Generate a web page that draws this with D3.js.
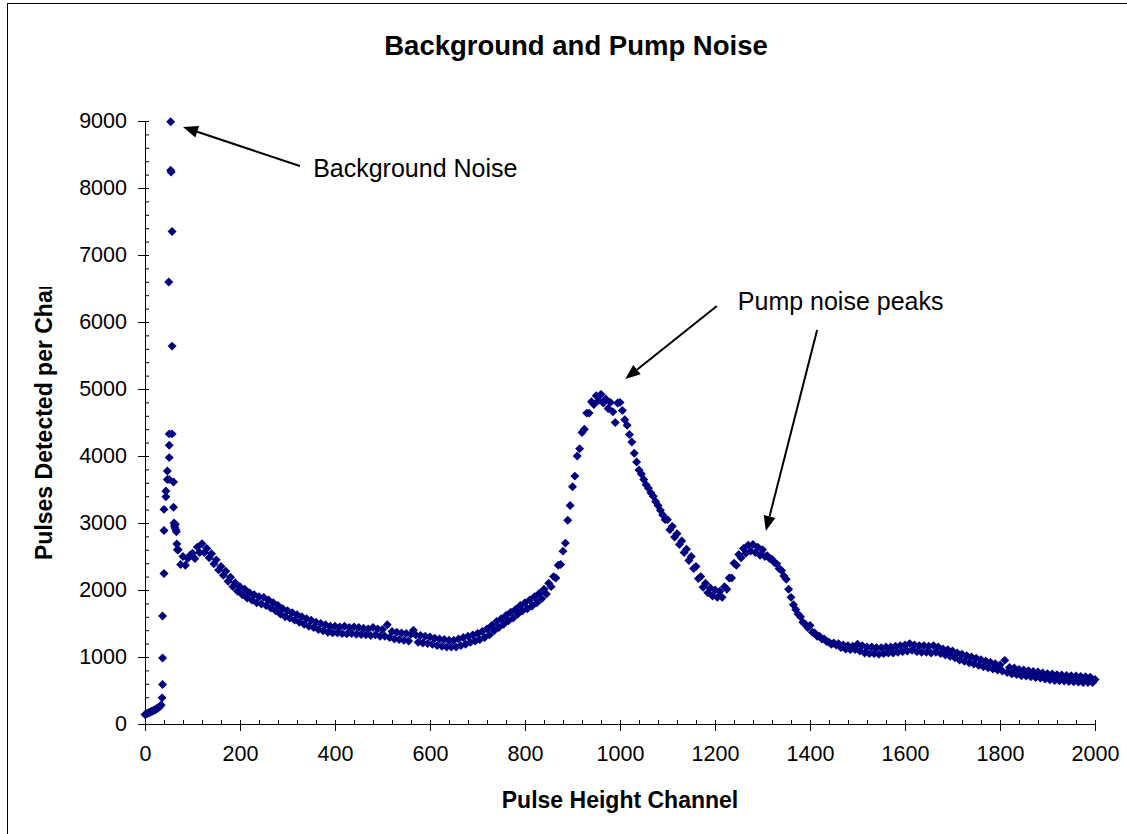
<!DOCTYPE html>
<html>
<head>
<meta charset="utf-8">
<script src="https://cdn.jsdelivr.net/npm/d3@7"></script>
<style>
  body { margin: 0; background: #fff; }
  text { font-family: "Liberation Sans", Arial, sans-serif; }
</style>
</head>
<body>
<script>
// Low channels: ramp up to the background spike
var rampChannels = [0, 2, 4, 6, 8, 10, 12, 14, 16, 18, 20, 22, 24, 26, 28, 30, 32, 34];
var rampCounts = [140, 150, 155, 160, 170, 175, 180, 190, 195, 200, 210, 215, 225, 235, 245, 255, 270, 285];

// Background noise spike (scattered points)
var spikeChannels = [36, 37, 37, 37, 40, 40, 40, 44, 44, 47, 47, 51, 51, 51, 51, 57, 57, 50, 57, 54, 55, 54, 60, 60, 61, 62, 63, 64, 65, 66, 67, 68];
var spikeCounts = [390, 590, 985, 1612, 2246, 2887, 3203, 3478, 3392, 3776, 3648, 3648, 3976, 4160, 4330, 4330, 5640, 6597, 7352, 8265, 8240, 8990, 3612, 3234, 3000, 2960, 2930, 2980, 2900, 2870, 2686, 2600];

// Main spectrum, every 5th channel from 70 to 2000
var curveStart = 70, curveStep = 5;
var curveCounts = [
  2600, 2380, 2500, 2370, 2470, 2520,
  2550, 2470, 2640, 2560, 2690, 2560, 2620, 2480, 2540, 2390, 2450, 2300, 2350, 2220, 2280, 2130, 2190, 2050, 2110, 1980,
  2050, 1930, 2010, 1880, 1960, 1850, 1930, 1810, 1900, 1790, 1890, 1770, 1850, 1730, 1810, 1690, 1770, 1640, 1720, 1600,
  1690, 1580, 1660, 1550, 1630, 1520, 1600, 1490, 1570, 1460, 1550, 1440, 1520, 1410, 1500, 1390, 1480, 1370, 1460, 1360,
  1460, 1360, 1450, 1350, 1460, 1345, 1440, 1350, 1450, 1340, 1440, 1335, 1430, 1330, 1420, 1320, 1440, 1330, 1420, 1310,
  1410, 1310, 1480, 1290, 1380, 1270, 1370, 1260, 1360, 1250, 1350, 1240, 1340, 1400, 1330, 1220, 1320, 1210, 1310, 1200,
  1300, 1190, 1280, 1170, 1270, 1160, 1260, 1150, 1250, 1150, 1250, 1150, 1270, 1170, 1290, 1190, 1310, 1220, 1330, 1240,
  1350, 1260, 1380, 1290, 1420, 1330, 1470, 1390, 1530, 1440, 1570, 1490, 1620, 1540, 1670, 1580, 1710, 1640, 1770, 1690,
  1810, 1720, 1850, 1760, 1900, 1810, 1950, 1870, 2010, 1940, 2100, 2050, 2200, 2180, 2370, 2380, 2580, 2700, 3040, 3260,
  3540, 3700, 4000, 4110, 4350, 4400, 4640, 4640, 4810, 4770, 4900, 4830, 4920, 4790, 4850, 4710, 4800, 4660, 4500, 4790,
  4800, 4680, 4540, 4460, 4320, 4210, 4040, 3910, 3790, 3730, 3650, 3570, 3520, 3450, 3400, 3320, 3260, 3190, 3120, 3050,
  3050, 2900, 2950, 2790, 2840, 2680, 2730, 2560, 2610, 2440, 2500, 2320, 2350, 2170, 2200, 2040, 2100, 1960, 2030, 1910,
  2000, 1890, 1980, 1890, 2050, 2010, 2180, 2180, 2400, 2370, 2530, 2480, 2620, 2550, 2670, 2580, 2680, 2560, 2640, 2520,
  2600, 2500, 2510, 2470, 2460, 2410, 2390, 2320, 2290, 2210, 2160, 2010, 1890, 1780, 1710, 1640, 1600, 1520, 1490, 1440,
  1470, 1370, 1360, 1310, 1310, 1270, 1270, 1230, 1220, 1190, 1210, 1180, 1200, 1140, 1180, 1120, 1170, 1110, 1160, 1110,
  1190, 1090, 1170, 1060, 1150, 1050, 1150, 1050, 1140, 1040, 1140, 1050, 1150, 1060, 1150, 1060, 1160, 1070, 1170, 1080,
  1180, 1090, 1200, 1100, 1180, 1080, 1170, 1070, 1170, 1070, 1160, 1060, 1170, 1070, 1150, 1050, 1120, 1030, 1110, 1010,
  1090, 990, 1060, 955, 1040, 935, 1020, 915, 1000, 895, 980, 875, 960, 855, 940, 840, 920, 820, 900, 805,
  880, 790, 950, 770, 845, 750, 835, 740, 815, 720, 805, 715, 795, 705, 785, 695, 775, 685, 760, 670,
  750, 660, 745, 650, 735, 645, 730, 640, 725, 635, 720, 630, 715, 625, 710, 620, 705, 620, 700, 618,
  665
];

// Axis ticks
var xMajorTicks = d3.range(0, 2001, 200);
var xMinorTicks = d3.range(0, 2001, 40);
var yMajorTicks = d3.range(0, 9001, 1000);
var yMinorTicks = d3.range(0, 9001, 200);

// Annotations in data units (channel, count)
var notes = [
  { text: "Background Noise", x: 354, y: 8164 },
  { text: "Pump noise peaks", x: 1248, y: 6179 }
];
var arrows = [
  { from: [326, 8328], to: [80, 8910] },
  { from: [1204, 6239], to: [1011, 5149] },
  { from: [1415, 5881], to: [1307, 2881] }
];

var width = 1127, height = 834;
var markerColor = "#000080";

var svg = d3.select("body")
  .append("svg")
  .attr("width", width)
  .attr("height", height);

// Chart frame (runs off the right and bottom edge)
svg.append("rect")
  .attr("x", 7.5)
  .attr("y", 3.5)
  .attr("width", 1140)
  .attr("height", 860)
  .attr("fill", "none")
  .attr("stroke", "#000")
  .attr("stroke-width", 1);

var x = d3.scaleLinear().domain([0, 2000]).range([145, 1095]);
var y = d3.scaleLinear().domain([0, 9000]).range([724, 121]);

// Build points from the arrays
var points = [];
rampChannels.forEach(function (c, i) { points.push({ ch: c, v: rampCounts[i] }); });
spikeChannels.forEach(function (c, i) { points.push({ ch: c, v: spikeCounts[i] }); });
curveCounts.forEach(function (v, i) { points.push({ ch: curveStart + i * curveStep, v: v }); });

// Minor ticks (inside)
svg.append("g")
  .attr("transform", "translate(0," + y(0) + ")")
  .call(d3.axisBottom(x).tickValues(xMinorTicks).tickSize(-4).tickFormat(""))
  .call(function (g) { g.select(".domain").remove(); });

svg.append("g")
  .attr("transform", "translate(" + x(0) + ",0)")
  .call(d3.axisLeft(y).tickValues(yMinorTicks).tickSize(-4).tickFormat(""))
  .call(function (g) { g.select(".domain").remove(); });

// Major ticks with labels (outside)
var xAxis = svg.append("g")
  .attr("transform", "translate(0," + y(0) + ")")
  .call(d3.axisBottom(x).tickValues(xMajorTicks).tickSizeInner(7).tickSizeOuter(0).tickPadding(15).tickFormat(d3.format("d")));

var yAxis = svg.append("g")
  .attr("transform", "translate(" + x(0) + ",0)")
  .call(d3.axisLeft(y).tickValues(yMajorTicks).tickSizeInner(7).tickSizeOuter(0).tickPadding(11).tickFormat(d3.format("d")));

[xAxis, yAxis].forEach(function (g) {
  g.attr("font-family", null).attr("font-size", null);
  g.selectAll("text").style("font-size", "21.5px").attr("fill", "#000");
  g.selectAll("line, path").attr("stroke", "#000");
});

// Data markers: small diamonds
var diamond = d3.symbol().type(d3.symbolSquare).size(40);
svg.append("g")
  .selectAll("path")
  .data(points)
  .enter()
  .append("path")
  .attr("d", diamond)
  .attr("transform", function (d) { return "translate(" + x(d.ch) + "," + y(d.v) + ") rotate(45)"; })
  .attr("fill", markerColor);

// Title
svg.append("text")
  .attr("x", 576)
  .attr("y", 55)
  .attr("text-anchor", "middle")
  .style("font-size", "27.5px")
  .style("font-weight", "bold")
  .text("Background and Pump Noise");

// X axis title
svg.append("text")
  .attr("x", 620)
  .attr("y", 808)
  .attr("text-anchor", "middle")
  .style("font-size", "23px")
  .style("font-weight", "bold")
  .text("Pulse Height Channel");

// Y axis title, clipped like in the original
svg.append("clipPath")
  .attr("id", "ytitle-clip")
  .append("rect")
  .attr("x", 0).attr("y", 287).attr("width", 100).attr("height", 500);

svg.append("g")
  .attr("clip-path", "url(#ytitle-clip)")
  .append("text")
  .attr("transform", "translate(52,560) rotate(-90)")
  .style("font-size", "23px")
  .style("font-weight", "bold")
  .text("Pulses Detected per Channel");

// Annotation text
svg.selectAll(".note")
  .data(notes)
  .enter()
  .append("text")
  .attr("class", "note")
  .attr("x", function (d) { return x(d.x); })
  .attr("y", function (d) { return y(d.y); })
  .style("font-size", "25px")
  .text(function (d) { return d.text; });

// Arrows
var headLen = 15, headHalf = 6;
arrows.forEach(function (a) {
  var x1 = x(a.from[0]), y1 = y(a.from[1]);
  var x2 = x(a.to[0]), y2 = y(a.to[1]);
  var ang = Math.atan2(y2 - y1, x2 - x1);
  var bx = x2 - headLen * Math.cos(ang), by = y2 - headLen * Math.sin(ang);
  svg.append("line")
    .attr("x1", x1).attr("y1", y1)
    .attr("x2", bx).attr("y2", by)
    .attr("stroke", "#000")
    .attr("stroke-width", 2);
  var px = -Math.sin(ang) * headHalf, py = Math.cos(ang) * headHalf;
  svg.append("path")
    .attr("d", "M" + x2 + "," + y2 + "L" + (bx + px) + "," + (by + py) + "L" + (bx - px) + "," + (by - py) + "Z")
    .attr("fill", "#000");
});
</script>
</body>
</html>
